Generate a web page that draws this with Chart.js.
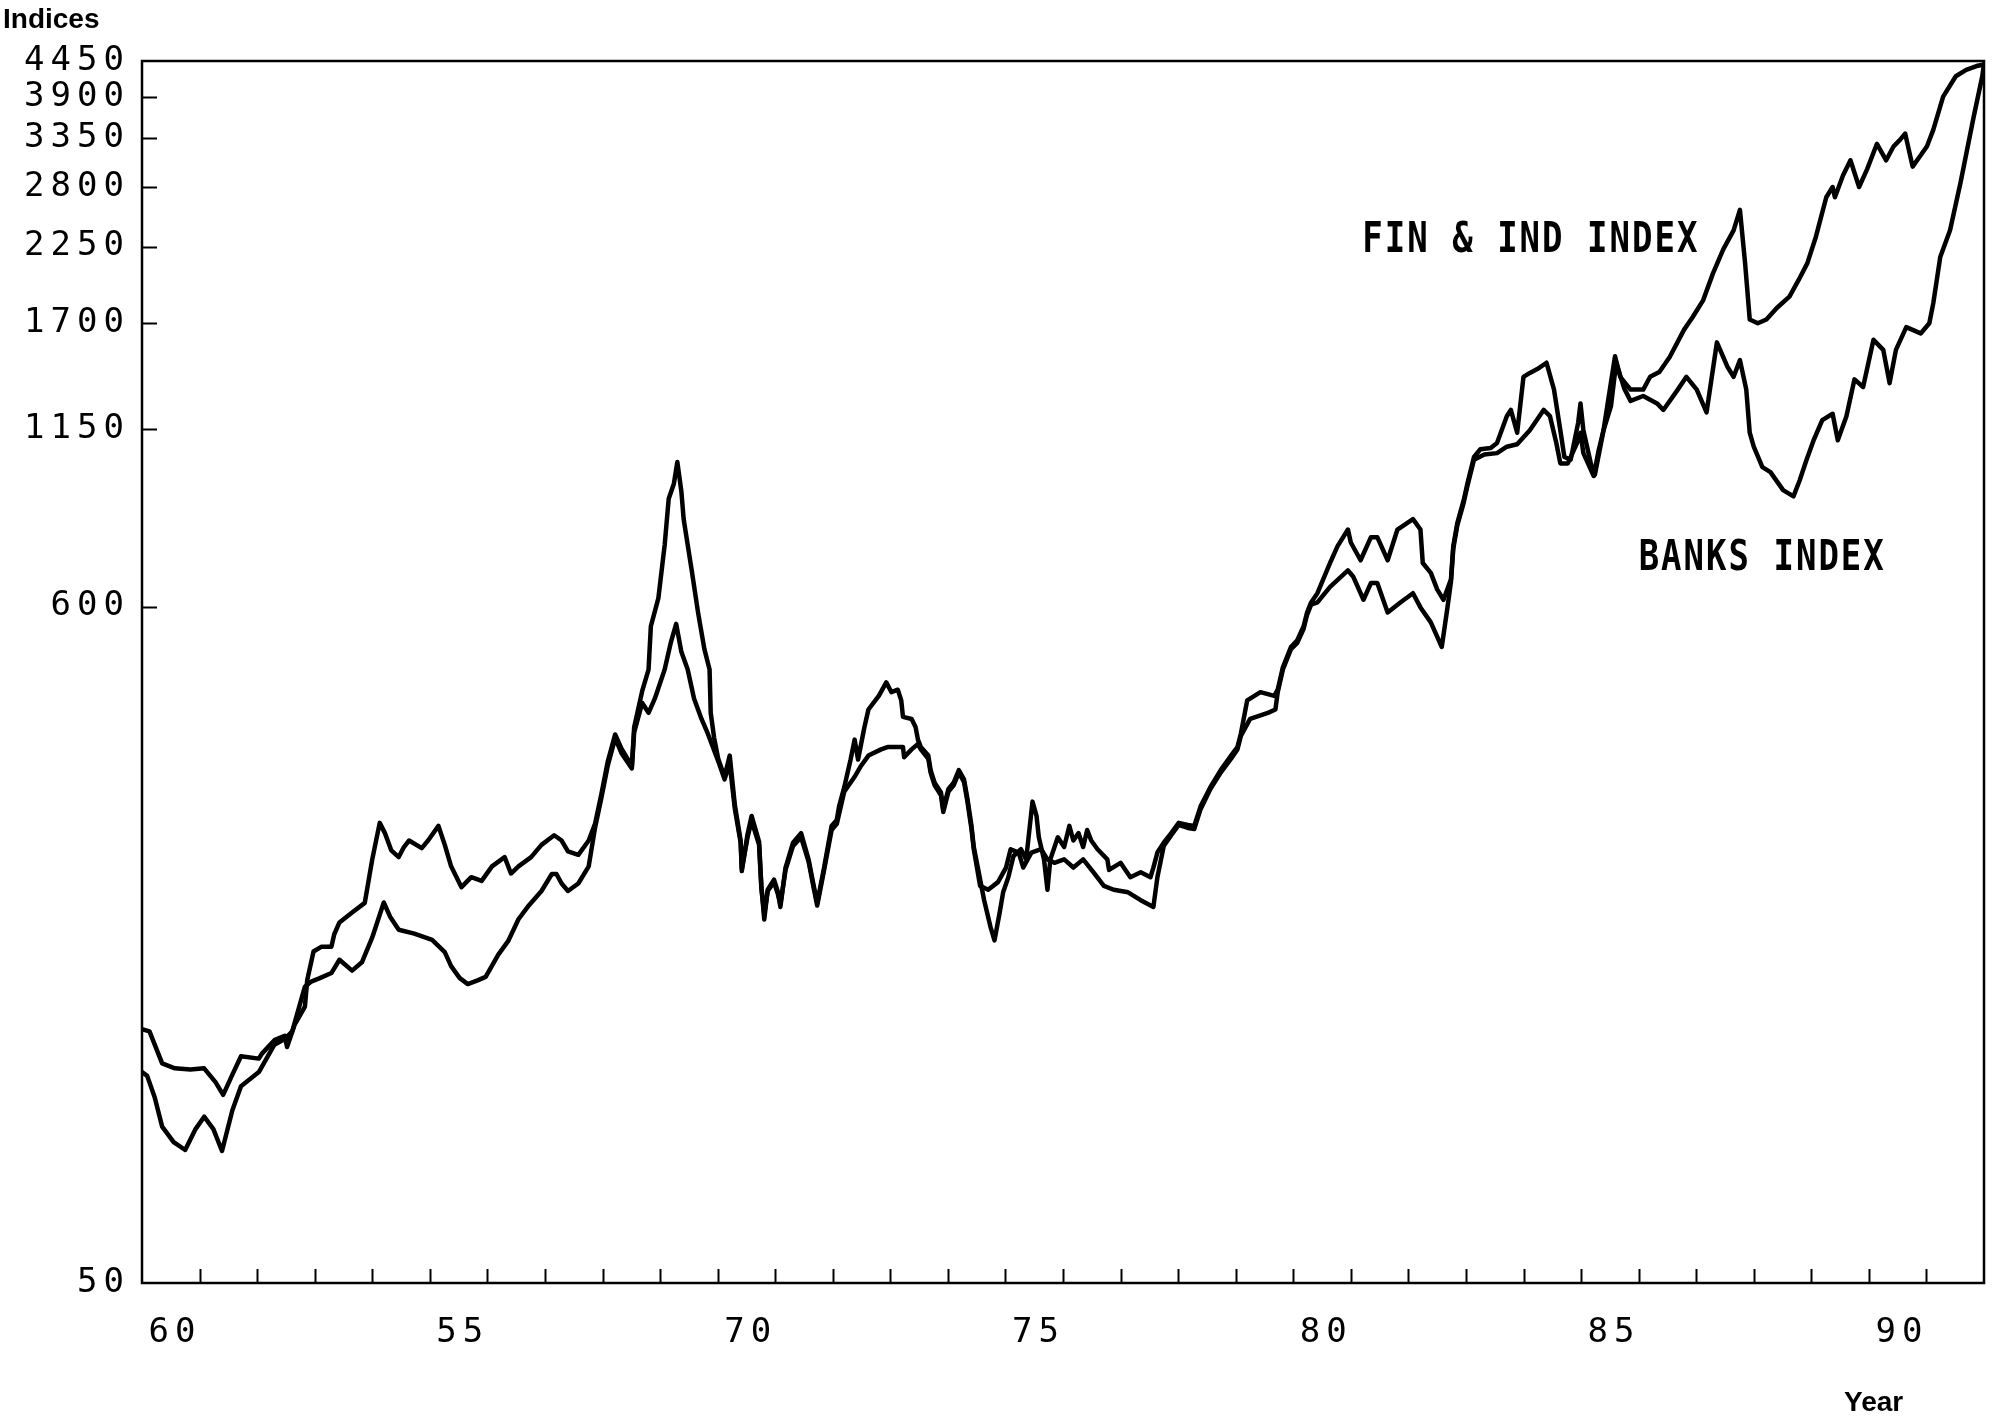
<!DOCTYPE html>
<html>
<head>
<meta charset="utf-8">
<script src="https://cdn.jsdelivr.net/npm/chart.js@4.4.1/dist/chart.umd.min.js"></script>
<style>
  html, body { margin: 0; padding: 0; background: #fff; }
  #c { display: block; }
</style>
</head>
<body>
<canvas id="c" width="1997" height="1416"></canvas>
<script>
// Financial & Industrial index, 1960-1992 (decimal years / index level)
const finIndYears = [
  1960.00,1960.13,1960.35,1960.57,1960.84,1961.08,1961.28,1961.41,1961.57,1961.72,
  1962.03,1962.08,1962.30,1962.48,1962.52,1962.65,1962.83,1962.87,1962.98,1963.12,
  1963.29,1963.34,1963.43,1963.65,1963.87,1964.00,1964.13,1964.22,1964.33,1964.46,
  1964.55,1964.64,1964.86,1964.97,1965.15,1965.26,1965.37,1965.55,1965.72,1965.90,
  1966.08,1966.30,1966.41,1966.54,1966.76,1966.94,1967.16,1967.29,1967.40,1967.58,
  1967.76,1967.87,1967.98,1968.09,1968.22,1968.33,1968.51,1968.55,1968.69,1968.80,
  1968.84,1968.97,1969.08,1969.15,1969.24,1969.30,1969.37,1969.41,1969.55,1969.66,
  1969.77,1969.86,1969.88,1969.94,1970.01,1970.12,1970.21,1970.30,1970.40,1970.42,
  1970.52,1970.59,1970.72,1970.76,1970.81,1970.87,1970.98,1971.05,1971.09,1971.18,
  1971.31,1971.45,1971.58,1971.67,1971.73,1971.85,1971.98,1972.07,1972.11,1972.20,
  1972.31,1972.38,1972.44,1972.55,1972.62,1972.80,1972.93,1973.02,1973.13,1973.19,
  1973.22,1973.37,1973.44,1973.48,1973.53,1973.66,1973.70,1973.77,1973.88,1973.92,
  1974.01,1974.10,1974.19,1974.28,1974.34,1974.41,1974.45,1974.52,1974.63,1974.74,
  1974.81,1974.90,1974.96,1975.05,1975.14,1975.27,1975.36,1975.47,1975.54,1975.58,
  1975.67,1975.73,1975.78,1975.91,1976.02,1976.11,1976.18,1976.27,1976.35,1976.42,
  1976.49,1976.60,1976.77,1976.80,1977.00,1977.17,1977.35,1977.52,1977.57,1977.64,
  1977.75,1977.88,1978.01,1978.17,1978.28,1978.39,1978.56,1978.74,1978.92,1979.03,
  1979.09,1979.20,1979.43,1979.67,1979.73,1979.82,1979.96,1980.07,1980.18,1980.24,
  1980.31,1980.42,1980.64,1980.77,1980.95,1981.00,1981.17,1981.35,1981.46,1981.64,
  1981.81,1982.08,1982.21,1982.25,1982.39,1982.50,1982.61,1982.74,1982.78,1982.85,
  1982.96,1983.03,1983.14,1983.25,1983.43,1983.54,1983.71,1983.78,1983.89,1984.00,
  1984.11,1984.24,1984.40,1984.53,1984.64,1984.71,1984.82,1984.95,1984.99,1985.04,
  1985.17,1985.24,1985.39,1985.50,1985.59,1985.68,1985.86,1986.08,1986.20,1986.36,
  1986.54,1986.79,1986.94,1987.12,1987.29,1987.47,1987.65,1987.76,1987.85,1987.93,
  1988.07,1988.22,1988.40,1988.62,1988.78,1988.93,1989.08,1989.26,1989.37,1989.41,
  1989.55,1989.68,1989.83,1989.97,1990.14,1990.30,1990.43,1990.54,1990.63,1990.76,
  1990.90,1991.01,1991.12,1991.29,1991.51,1991.69,1991.87,1991.98
];
const finIndValues = [
  127,126,112,110,109.5,110,104.5,99.8,107.5,115,
  114,116,122,124,119,129,138,152,169,172,
  172,180,188,195,202,237,271,261,245,239,
  248,254,247,254,268,250,231,214,222,219,
  231,239,225,231,239,250,259,254,244,241,
  254,270,301,339,375,356,334,385,440,476,
  558,618,752,891,942,1020,916,827,685,587,
  513,476,406,370,343,321,347,289,254,227,
  260,278,253,215,190,212,220,210,199,230,
  252,261,237,215,202,230,268,274,288,309,
  342,368,342,385,411,432,454,438,442,425,
  400,397,385,368,358,347,329,314,303,285,
  307,314,329,318,296,268,248,230,204,185,
  176,195,210,222,240,246,237,293,278,257,
  237,212,237,257,248,268,254,261,248,264,
  254,246,237,228,234,222,226,222,230,243,
  252,261,271,269,268,288,309,329,347,358,
  376,425,438,432,442,480,517,530,558,587,
  609,630,704,749,796,759,711,774,774,711,
  796,827,796,704,679,639,615,663,749,815,
  886,946,1039,1069,1074,1094,1207,1235,1136,1395,
  1415,1435,1469,1331,1146,1039,1029,1179,1265,1146,
  1015,973,1146,1331,1504,1395,1331,1331,1395,1420,
  1500,1659,1738,1847,2038,2228,2389,2575,2116,1722,
  1698,1722,1796,1873,1991,2116,2334,2698,2801,2698,
  2922,3090,2801,2991,3283,3090,3253,3330,3409,3019,
  3148,3253,3458,3904,4207,4307,4368,4389
];

// Banks index, 1960-1992 (decimal years / index level)
const banksYears = [
  1960.00,1960.09,1960.22,1960.35,1960.55,1960.75,1960.93,1961.08,1961.24,1961.39,
  1961.57,1961.72,1962.03,1962.30,1962.48,1962.61,1962.83,1962.94,1963.09,1963.29,
  1963.43,1963.65,1963.82,1964.00,1964.20,1964.31,1964.46,1964.73,1965.04,1965.26,
  1965.37,1965.52,1965.66,1965.83,1965.97,1966.19,1966.36,1966.54,1966.72,1966.94,
  1967.12,1967.20,1967.29,1967.40,1967.58,1967.76,1967.87,1967.98,1968.09,1968.22,
  1968.33,1968.51,1968.55,1968.69,1968.80,1968.91,1969.08,1969.19,1969.28,1969.37,
  1969.48,1969.59,1969.72,1969.83,1970.01,1970.12,1970.21,1970.30,1970.40,1970.42,
  1970.52,1970.59,1970.72,1970.76,1970.81,1970.87,1970.98,1971.05,1971.09,1971.18,
  1971.31,1971.45,1971.58,1971.67,1971.73,1971.85,1971.98,1972.07,1972.20,1972.38,
  1972.49,1972.62,1972.84,1972.95,1973.06,1973.22,1973.24,1973.37,1973.48,1973.53,
  1973.66,1973.70,1973.77,1973.88,1973.92,1974.01,1974.10,1974.19,1974.28,1974.34,
  1974.41,1974.45,1974.56,1974.70,1974.87,1975.01,1975.09,1975.23,1975.31,1975.45,
  1975.62,1975.73,1975.85,1976.02,1976.18,1976.35,1976.53,1976.71,1976.88,1977.13,
  1977.35,1977.57,1977.64,1977.75,1977.88,1978.01,1978.17,1978.28,1978.39,1978.56,
  1978.74,1978.92,1979.03,1979.09,1979.25,1979.56,1979.69,1979.73,1979.82,1979.96,
  1980.07,1980.18,1980.24,1980.31,1980.42,1980.64,1980.95,1981.04,1981.22,1981.35,
  1981.46,1981.64,1981.86,1982.08,1982.21,1982.39,1982.50,1982.58,1982.67,1982.74,
  1982.78,1982.85,1982.96,1983.03,1983.14,1983.32,1983.54,1983.71,1983.89,1984.11,
  1984.35,1984.46,1984.57,1984.64,1984.77,1984.93,1984.99,1985.04,1985.22,1985.30,
  1985.39,1985.52,1985.61,1985.75,1985.86,1986.08,1986.32,1986.43,1986.68,1986.83,
  1987.01,1987.18,1987.36,1987.54,1987.65,1987.76,1987.87,1987.93,1988.00,1988.15,
  1988.29,1988.51,1988.69,1988.80,1988.91,1989.04,1989.19,1989.37,1989.46,1989.61,
  1989.75,1989.90,1990.08,1990.25,1990.36,1990.47,1990.65,1990.90,1991.05,1991.12,
  1991.24,1991.41,1991.59,1991.82,1991.97,1992.00
];
const banksValues = [
  108.5,107,98.9,88.8,83.9,81.5,88,92.1,88,81.2,
  94.3,103,108.5,120,122.5,126,148.5,151.3,153.2,156.1,
  163.9,157.5,162.4,177.9,202.3,192,183,180.4,176.3,168.6,
  160.1,153.2,149.9,152,153.9,167,175.5,190.2,200.1,211,
  224.6,224.6,216.9,211,216.9,231,266,297,334,370,
  350,331,378,421,406,428,476,527,563,508,
  476,428,397,376,340,318,337,285,252,229,
  257,273,250,213,194,211,218,208,201,228,
  249,257,235,213,200,228,264,270,304,321,
  334,347,355,358,358,358,345,355,362,355,
  343,326,311,300,282,304,311,326,315,293,
  265,246,215,212,218,230,246,243,230,243,
  246,237,234,237,230,237,226,215,212,210,
  204,199,222,249,259,269,266,265,285,307,
  326,343,355,373,397,406,411,438,476,513,
  525,553,582,604,609,645,685,670,615,654,
  654,587,609,630,598,566,537,517,590,657,
  742,808,878,938,1029,1049,1054,1079,1089,1146,
  1235,1207,1094,1015,1015,1094,1136,1054,969,1059,
  1146,1253,1469,1337,1277,1300,1265,1235,1331,1395,
  1331,1224,1583,1449,1395,1483,1331,1136,1079,1001,
  983,920,899,955,1024,1105,1190,1218,1105,1207,
  1382,1344,1598,1540,1363,1540,1674,1636,1698,1830,
  2166,2389,2840,3623,4207,4409
];

// Axis ticks and labels
const yTickValues = [50, 600, 1150, 1700, 2250, 2800, 3350, 3900, 4450];
const xLabelYears = [1960, 1965, 1970, 1975, 1980, 1985, 1990];
const xLabelTexts = ['60', '55', '70', '75', '80', '85', '90'];

// Series name tags written beside the curves
const tagTexts = ['FIN & IND INDEX', 'BANKS INDEX'];
const tagYears = [1981.2, 1986.0];
const tagValues = [2300, 715];

const toPoints = (xs, ys) => xs.map((x, i) => ({ x, y: ys[i] }));

const MONO = '"DejaVu Sans Mono", "Liberation Mono", monospace';

const framePlugin = {
  id: 'frame',
  beforeDraw(chart) {
    const ctx = chart.ctx;
    ctx.save();
    ctx.fillStyle = '#fff';
    ctx.fillRect(0, 0, chart.width, chart.height);
    ctx.restore();
    // wide plotter-style spacing for the tick numbers
    ctx.letterSpacing = '6px';
  },
  afterDraw(chart) {
    const { ctx, chartArea: a, scales: { x, y } } = chart;
    ctx.save();
    ctx.letterSpacing = '0px';
    ctx.strokeStyle = '#000';
    ctx.lineWidth = 2.5;
    ctx.strokeRect(a.left, a.top, a.right - a.left, a.bottom - a.top);

    // inward tick marks
    ctx.lineWidth = 2;
    ctx.beginPath();
    for (let yr = x.min + 1; yr < x.max; yr++) {
      const px = Math.round(x.getPixelForValue(yr)) + 0.5;
      ctx.moveTo(px, a.bottom);
      ctx.lineTo(px, a.bottom - 14);
    }
    yTickValues.slice(1, -1).forEach(v => {
      const py = Math.round(y.getPixelForValue(v)) + 0.5;
      ctx.moveTo(a.left, py);
      ctx.lineTo(a.left + 15, py);
    });
    ctx.stroke();

    // axis captions
    ctx.fillStyle = '#000';
    ctx.font = 'bold 28px "Liberation Sans", Arial, sans-serif';
    ctx.textBaseline = 'alphabetic';
    ctx.textAlign = 'left';
    ctx.fillText('Indices', 3, 28);
    ctx.fillText('Year', 1844, 1411);

    // series tags
    tagTexts.forEach((t, i) => {
      ctx.save();
      ctx.translate(x.getPixelForValue(tagYears[i]), y.getPixelForValue(tagValues[i]));
      ctx.scale(1, 1.25);
      ctx.font = 'bold 34px ' + MONO;
      ctx.letterSpacing = '2px';
      ctx.textBaseline = 'middle';
      ctx.textAlign = 'left';
      ctx.fillText(t, 0, 0);
      ctx.restore();
    });
    ctx.restore();
  }
};

const lineStyle = {
  borderColor: '#000',
  borderWidth: 4.5,
  pointRadius: 0,
  tension: 0,
  borderJoinStyle: 'round',
  borderCapStyle: 'round',
  fill: false
};

new Chart(document.getElementById('c'), {
  type: 'line',
  data: {
    datasets: [
      Object.assign({ label: 'FIN & IND INDEX', data: toPoints(finIndYears, finIndValues) }, lineStyle),
      Object.assign({ label: 'BANKS INDEX', data: toPoints(banksYears, banksValues) }, lineStyle)
    ]
  },
  options: {
    responsive: false,
    devicePixelRatio: 1,
    animation: false,
    events: [],
    layout: { padding: { left: 0, right: 13, top: 61, bottom: 0 } },
    plugins: { legend: { display: false }, tooltip: { enabled: false } },
    scales: {
      x: {
        type: 'linear',
        min: 1960,
        max: 1992,
        grid: { display: false, drawTicks: false },
        border: { display: false },
        afterFit(scale) {
          scale.height = 133;
          scale.paddingLeft = 0;
          scale.paddingRight = 0;
        },
        ticks: {
          stepSize: 1,
          autoSkip: false,
          maxRotation: 0,
          padding: 30,
          labelOffset: 33,
          color: '#000',
          font: { family: MONO, size: 34 },
          callback(v) {
            const i = xLabelYears.indexOf(Math.round(v));
            return i >= 0 ? xLabelTexts[i] : '';
          }
        }
      },
      y: {
        type: 'logarithmic',
        min: 50,
        max: 4450,
        grid: { display: false, drawTicks: false },
        border: { display: false },
        afterFit(scale) {
          scale.width = 142;
          scale.paddingTop = 0;
          scale.paddingBottom = 0;
        },
        afterBuildTicks(scale) { scale.ticks = yTickValues.map(v => ({ value: v })); },
        ticks: {
          padding: 12,
          color: '#000',
          font: { family: MONO, size: 34 },
          callback(v) { return String(v); }
        }
      }
    }
  },
  plugins: [framePlugin]
});
</script>
</body>
</html>
